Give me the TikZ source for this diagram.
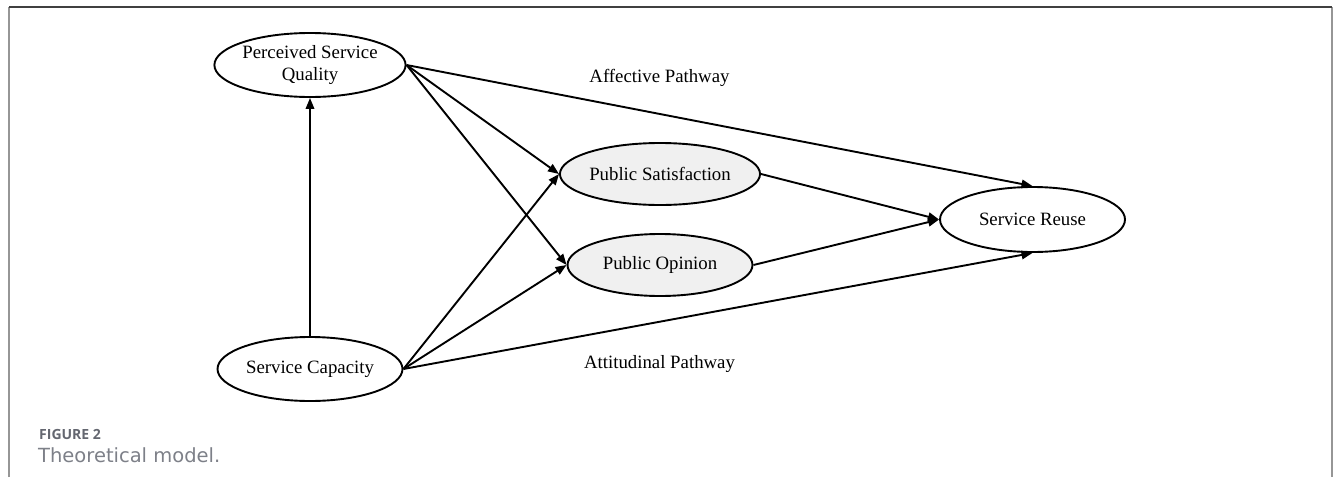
\documentclass[tikz,border=0pt]{standalone}
\usepackage{fontspec}
\setmainfont{Liberation Serif}
\newfontfamily\capfont{Open Sans}
\newfontfamily\capwide{DejaVu Sans}
\usepackage{tikz}
\usetikzlibrary{arrows.meta, positioning, shapes.geometric}

\definecolor{medgray}{RGB}{240,240,240}
\definecolor{capgray}{RGB}{100,103,112}
\definecolor{captext}{RGB}{125,128,136}
\definecolor{framegray}{RGB}{150,150,150}

\begin{document}
\begin{tikzpicture}[
x=1pt, y=-1pt,
font=\fontsize{18.8}{22}\selectfont,
latent/.style={ellipse, draw, line width=1.9pt, minimum width=185pt, minimum height=64pt, inner sep=0pt, align=center},
mediator/.style={latent, fill=medgray},
arrow/.style={line width=1.9pt, -{Triangle[length=11pt, width=8.5pt]}},
pathlabel/.style={inner sep=0pt}
]
\useasboundingbox (0,0) rectangle (1333,477);

% frame and caption
\draw[framegray, line width=1.2pt] (9,477) -- (9,7);
\draw[framegray, line width=1.2pt] (1332,7) -- (1332,477);
\draw[black!75, line width=1.5pt] (9,7) -- (1332,7);
\node[anchor=base west, inner sep=0pt, text=capgray, font=\capfont\bfseries\fontsize{14}{16}\selectfont] (fig) at (39,439) {FIGURE 2};
\node[anchor=base west, inner sep=0pt, text=captext, font=\capwide\fontsize{19.5}{22}\selectfont] (title) at (38,462) {Theoretical model.};

% constructs
\node[latent] (psq) at (310,65) {Perceived Service\\Quality};
\node[latent] (cap) at (310,369) {Service Capacity};
\node[mediator, minimum height=62pt] (sat) at (660,174) {Public Satisfaction};
\node[mediator, minimum height=62pt] (opi) at (660,265) {Public Opinion};
\node[latent, minimum height=65pt] (reuse) at (1032.5,219.5) {Service Reuse};

\node[pathlabel] (aff) at (659.5,78) {Affective Pathway};
\node[pathlabel] (att) at (659.5,364) {Attitudinal Pathway};

% paths
\draw[arrow] (cap) -- (psq);
\draw[arrow] (psq.east) -- (sat.west);
\draw[arrow] (psq.east) -- (opi.west);
\draw[arrow] (psq.east) -- (reuse.north);
\draw[arrow] (cap.east) -- (sat.west);
\draw[arrow] (cap.east) -- (opi.west);
\draw[arrow] (cap.east) -- (reuse.south);
\draw[arrow] (sat.east) -- (reuse.west);
\draw[arrow] (opi.east) -- (reuse.west);

\end{tikzpicture}
\end{document}
